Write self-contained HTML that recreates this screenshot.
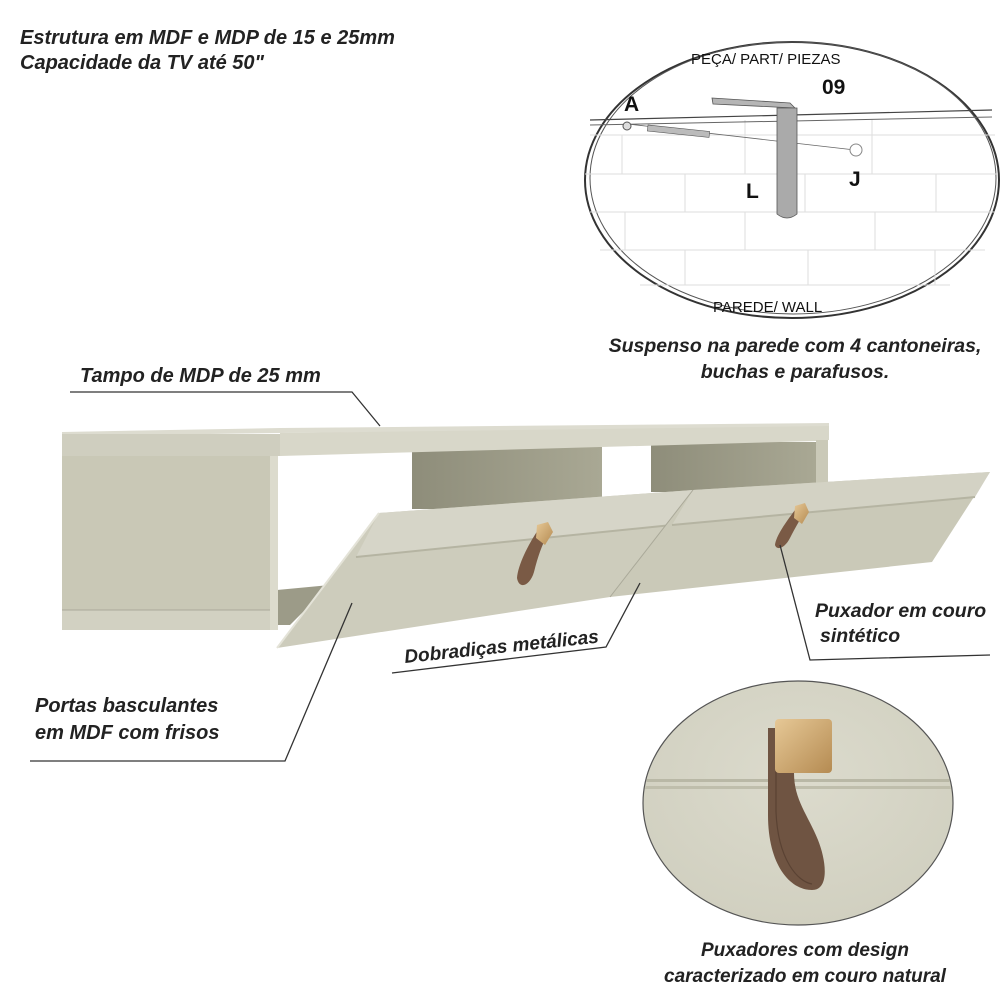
<!DOCTYPE html>
<html><head><meta charset="utf-8"><style>
body{margin:0;background:#fff}
svg{display:block}
.t{font-family:"Liberation Sans",sans-serif;font-style:italic;font-weight:bold;fill:#222}
.n{font-family:"Liberation Sans",sans-serif;fill:#111}
</style></head><body>
<svg width="1000" height="1000" viewBox="0 0 1000 1000" xmlns="http://www.w3.org/2000/svg">
<defs>
<linearGradient id="bk" x1="0" y1="0" x2="1" y2="0"><stop offset="0" stop-color="#8e8d7a"/><stop offset="1" stop-color="#a9a894"/></linearGradient>
<linearGradient id="hg" x1="0" y1="0" x2="1" y2="1"><stop offset="0" stop-color="#e6c896"/><stop offset="1" stop-color="#b58b52"/></linearGradient>
<radialGradient id="cb" cx="0.5" cy="0.4" r="0.7"><stop offset="0" stop-color="#dcdbcd"/><stop offset="1" stop-color="#cfcebe"/></radialGradient>
</defs>
<text class="t" x="20" y="44" font-size="20">Estrutura em  MDF e MDP de  15 e 25mm</text>
<text class="t" x="20" y="69" font-size="20">Capacidade da TV até 50"</text>

<ellipse cx="792" cy="180" rx="207" ry="138" fill="#fff" stroke="#333" stroke-width="2"/>
<ellipse cx="793" cy="178" rx="203" ry="136" fill="none" stroke="#555" stroke-width="1"/>
<g stroke="#ddd" stroke-width="1">
<line x1="590" y1="135" x2="995" y2="135"/><line x1="585" y1="174" x2="998" y2="174"/>
<line x1="590" y1="212" x2="995" y2="212"/><line x1="600" y1="250" x2="985" y2="250"/>
<line x1="640" y1="285" x2="950" y2="285"/>
<line x1="622" y1="135" x2="622" y2="174"/><line x1="745" y1="120" x2="745" y2="174"/><line x1="872" y1="120" x2="872" y2="174"/>
<line x1="685" y1="174" x2="685" y2="212"/><line x1="805" y1="174" x2="805" y2="212"/><line x1="936" y1="174" x2="936" y2="212"/>
<line x1="625" y1="212" x2="625" y2="250"/><line x1="745" y1="212" x2="745" y2="250"/><line x1="875" y1="212" x2="875" y2="250"/>
<line x1="685" y1="250" x2="685" y2="285"/><line x1="808" y1="250" x2="808" y2="285"/><line x1="935" y1="250" x2="935" y2="285"/>
</g>
<line x1="590" y1="120" x2="992" y2="110" stroke="#444" stroke-width="1.2"/>
<line x1="590" y1="125" x2="992" y2="117" stroke="#666" stroke-width="1"/>
<line x1="628" y1="124" x2="855" y2="150" stroke="#666" stroke-width="0.8"/>
<rect x="648" y="125" width="62" height="6" fill="#bbb" stroke="#555" stroke-width="0.6" transform="rotate(6 648 125)"/>
<circle cx="627" cy="126" r="4" fill="#ddd" stroke="#555"/>
<polygon points="712,98 790,103 795,108 713,104" fill="#b5b5b5" stroke="#555" stroke-width="0.8"/>
<path d="M777,108 H797 V214 Q787,222 777,214 Z" fill="#aaa" stroke="#555" stroke-width="0.8"/>
<circle cx="856" cy="150" r="6" fill="#fff" stroke="#888"/>
<text class="n" x="691" y="64" font-size="15">PEÇA/ PART/ PIEZAS</text>
<text class="n" x="822" y="94" font-size="21" font-weight="bold">09</text>
<text class="n" x="624" y="111" font-size="21" font-weight="bold">A</text>
<text class="n" x="746" y="198" font-size="21" font-weight="bold">L</text>
<text class="n" x="849" y="186" font-size="21" font-weight="bold">J</text>
<text class="n" x="713" y="312" font-size="15">PAREDE/ WALL</text>
<text class="t" x="795" y="352" font-size="19.5" text-anchor="middle">Suspenso na parede com 4 cantoneiras,</text>
<text class="t" x="795" y="378" font-size="19.5" text-anchor="middle">buchas e parafusos.</text>

<text class="t" x="80" y="382" font-size="20">Tampo de MDP de 25 mm</text>
<polyline points="70,392 352,392 380,426" fill="none" stroke="#333" stroke-width="1.3"/>

<polygon points="277,455 412,455 412,600 277,640" fill="#fff"/>
<rect x="412" y="447" width="190" height="62" fill="url(#bk)"/>
<rect x="651" y="442" width="165" height="50" fill="url(#bk)"/>
<polygon points="277,590 330,585 290,625 277,625" fill="#9c9b88"/>
<rect x="62" y="455" width="215" height="155" fill="#c9c8b6"/>
<rect x="62" y="610" width="215" height="20" fill="#d2d1c2"/>
<line x1="62" y1="610" x2="277" y2="610" stroke="#aaa99a"/>
<rect x="270" y="455" width="8" height="175" fill="#dcdbcd"/>
<polygon points="62,432 280,428 829,423 829,428 280,433 62,436" fill="#dddcd0"/>
<rect x="62" y="434" width="218" height="22" fill="#cfcebf"/>
<polygon points="280,433 829,426 829,440 816,441 280,456" fill="#d8d7c9"/>
<rect x="816" y="440" width="12" height="52" fill="#cac9b8"/>
<polygon points="379,513 693,490 610,597 277,648" fill="#cdccbc"/>
<polygon points="379,513 693,490 672,525 356,557" fill="#d6d5c8"/>
<line x1="356" y1="557" x2="672" y2="525" stroke="#b5b4a2" stroke-width="2"/>
<line x1="379" y1="513" x2="277" y2="648" stroke="#e4e3d8" stroke-width="2"/>
<polygon points="693,490 990,472 932,562 610,597" fill="#cac9b8"/>
<polygon points="693,490 990,472 975,497 672,525" fill="#d3d2c4"/>
<line x1="672" y1="525" x2="975" y2="497" stroke="#b5b4a2" stroke-width="2"/>
<line x1="693" y1="490" x2="610" y2="597" stroke="#aaa999" stroke-width="1"/>
<path d="M538,530 C528,545 518,565 517,578 C519,590 530,586 534,572 C538,556 542,545 547,536 Z" fill="#7a5a45"/>
<polygon points="537,525 548,522 553,532 545,545 536,538" fill="url(#hg)"/>
<path d="M795,510 C786,522 776,536 775,545 C777,551 785,548 790,538 C795,528 800,520 803,514 Z" fill="#7a5a45"/>
<polygon points="795,506 805,503 809,512 802,524 794,518" fill="url(#hg)"/>

<text class="t" x="405" y="663" font-size="19" transform="rotate(-6 405 663)">Dobradiças metálicas</text>
<polyline points="392,673 606,647 640,583" fill="none" stroke="#333" stroke-width="1.3"/>
<text class="t" x="815" y="617" font-size="19.5">Puxador em couro</text>
<text class="t" x="820" y="642" font-size="19.5">sintético</text>
<polyline points="780,545 810,660 990,655" fill="none" stroke="#333" stroke-width="1.3"/>
<text class="t" x="35" y="712" font-size="20">Portas basculantes</text>
<text class="t" x="35" y="739" font-size="20">em MDF com frisos</text>
<polyline points="30,761 285,761 352,603" fill="none" stroke="#333" stroke-width="1.3"/>

<ellipse cx="798" cy="803" rx="155" ry="122" fill="url(#cb)" stroke="#555" stroke-width="1.2"/>
<clipPath id="cc"><ellipse cx="798" cy="803" rx="154" ry="121"/></clipPath>
<g clip-path="url(#cc)">
<rect x="640" y="779" width="320" height="3" fill="#b9b8a6"/>
<rect x="640" y="786" width="320" height="3" fill="#bfbeac"/>
</g>
<path d="M768,728 V815 C768,865 790,890 812,890 C830,890 826,860 818,840 C808,815 794,800 794,773 V728 Z" fill="#6f5442"/>
<path d="M776,735 V812 C778,860 798,882 812,884" fill="none" stroke="#5a4233" stroke-width="1.2"/>
<rect x="775" y="719" width="57" height="54" rx="4" fill="url(#hg)"/>
<text class="t" x="805" y="956" font-size="19" text-anchor="middle">Puxadores com design</text>
<text class="t" x="805" y="982" font-size="19" text-anchor="middle">caracterizado em couro natural</text>
</svg>
</body></html>
